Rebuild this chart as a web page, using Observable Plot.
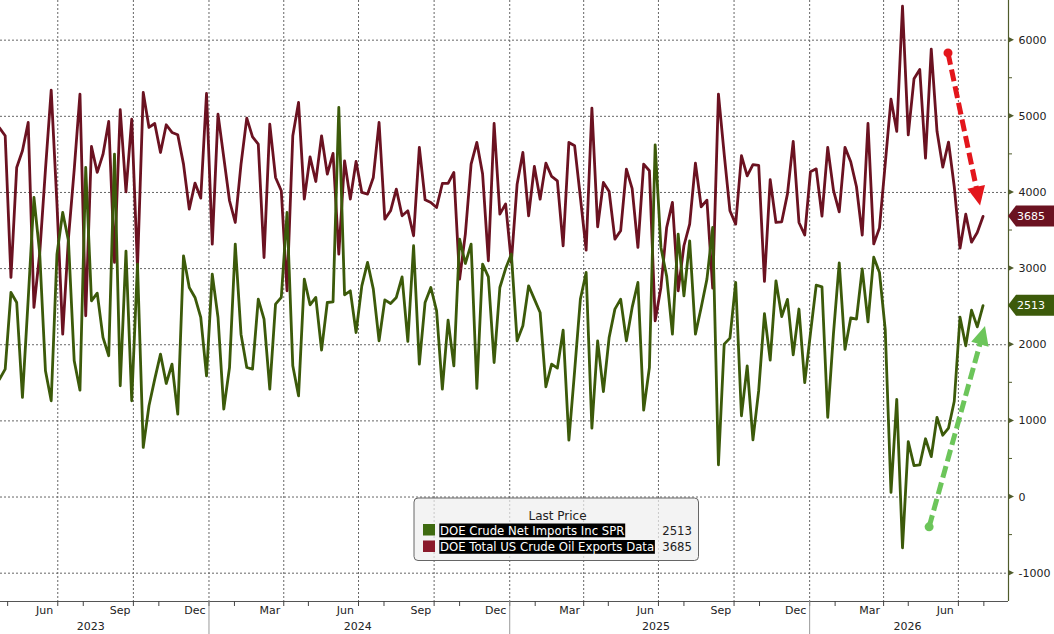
<!DOCTYPE html>
<html>
<head>
<meta charset="utf-8">
<script src="https://cdn.jsdelivr.net/npm/d3@7"></script>
<script src="https://cdn.jsdelivr.net/npm/@observablehq/plot@0.6"></script>
<style>
  html, body { margin: 0; padding: 0; background: #fff; }
  #chart { width: 1054px; height: 634px; overflow: hidden; }
  #chart svg { font-family: "DejaVu Sans", Verdana, sans-serif; }
</style>
</head>
<body>
<div id="chart"></div>
<script>
// ---------- data (weekly, thousand barrels per day) ----------
const firstWeek = "2023-04-21";
const seriesNames = ["DOE Crude Net Imports Inc SPR", "DOE Total US Crude Oil Exports Data"];
const seriesColors = ["#3c5a0a", "#6b1221"];
const swatchColors = ["#3e6a10", "#8a1a2b"];
const tagColors = ["#3c5a0a", "#6b1221"];

const exportsValues = [
  4850,4744,2884,4328,4547,4919,2490,3200,4300,5344,3850,2139,3400,4300,5292,2380,4604,4263,4500,4932,
  3081,5086,4009,4963,3015,5313,4854,4906,4525,4889,4788,4757,4372,3781,4123,3926,5300,3321,5029,4460,
  3891,3606,4372,4976,4730,4635,3146,4898,4197,4022,2709,4744,5182,3912,4468,4144,4744,4241,4512,3190,
  4416,3912,4407,4000,3978,4197,4919,3650,3759,4044,3694,3759,3431,4591,3904,3869,3803,4118,4118,4263,
  2862,3453,4372,4657,4241,3103,4906,3716,3850,3081,4109,4525,3694,4341,3912,4385,4210,4153,3300,4657,
  4613,3934,3243,5108,3549,4131,4013,3387,3497,4306,4050,3278,4372,4285,2314,2752,3540,3869,2709,3300,
  3584,4385,3812,3899,2744,5292,4503,3759,3584,4482,4219,4366,4357,2831,4169,3606,3615,3981,4671,3606,
  3441,4272,4310,3690,4592,4028,3746,4592,4404,4075,3441,4906,3324,3535,4380,5225,4803,6446,4756,5493,
  5615,4451,5883,4803,4333,4662,4075,3268,3714,3347,3474,3685
];
const importsValues = [
  1547,1680,2687,2555,1308,2600,3934,3200,1658,1264,3190,3737,3365,1789,1404,4328,2577,2678,2096,1855,
  4503,1461,3230,1264,3059,651,1198,1548,1877,1491,1745,1089,3168,2752,2621,2358,1592,2927,2358,1154,
  1701,3321,2139,1701,1680,2599,2336,1417,2533,2621,3737,1723,1329,2862,2525,2621,1929,2555,2564,5116,
  2656,2708,2161,2774,3081,2730,2052,2590,2542,2621,2892,2043,3300,1745,2555,2752,2446,1417,2323,1723,
  3387,3067,3321,1426,3059,2892,1767,2752,3000,3190,2052,2249,2774,2599,2424,1448,1745,1693,2192,747,
  1658,2599,2949,905,2052,1386,2096,2468,2599,2052,2490,2818,1141,1701,4626,3278,2900,2139,3453,2643,
  3365,2139,2490,2862,3540,423,2008,2087,2818,1067,1723,750,1400,2408,1798,2840,2371,2596,1868,2469,
  1502,2150,2784,2761,1047,2150,3075,1939,2352,2338,2995,2300,3150,2948,2197,60,1282,-667,728,413,
  422,765,530,1047,812,906,1258,2361,1986,2455,2235,2513
];
const lastValues = [2513, 3685];

// axis / tick labels
const yTicks = [-1000, 0, 1000, 2000, 3000, 4000, 5000, 6000];
const yMinorTicks = [-500, 500, 1500, 2500, 3500, 4500, 5500];
const labeledMonths = ["Jun", "Sep", "Dec", "Mar"];
const yearLabels = [
  { label: "2023", date: "2023-08-10" },
  { label: "2024", date: "2024-06-30" },
  { label: "2025", date: "2025-06-28" },
  { label: "2026", date: "2026-04-30" }
];
const xDomain = ["2023-04-22T07:00:00Z", "2026-08-31T00:00:00Z"];
const yDomain = [-1372, 6521];

// annotation arrows
const arrowStarts = [
  { date: "2026-06-19", value: 5826 },
  { date: "2026-05-27", value: -398 }
];
const arrowEnds = [
  { date: "2026-07-28", value: 3823 },
  { date: "2026-08-03", value: 2240 }
];
const arrowColors = ["#e3161c", "#6cc55a"];

// ---------- build ----------
const weekDates = exportsValues.map((_, i) => d3.utcDay.offset(new Date(firstWeek + "T00:00:00Z"), 7 * i));
const exportsRows = exportsValues.map((v, i) => ({ date: weekDates[i], value: v }));
const importsRows = importsValues.map((v, i) => ({ date: weekDates[i], value: v }));

const x0 = new Date(xDomain[0]), x1 = new Date(xDomain[1]);
const quarterStarts = d3.utcMonth.every(3).range(x0, x1);
const fmtMonth = d3.utcFormat("%b");
const allMonths = d3.utcMonth.range(x0, x1);
const monthTicks = allMonths.filter(d => !labeledMonths.includes(fmtMonth(d)));
const monthMids = allMonths.filter(d => labeledMonths.includes(fmtMonth(d))).map(d => d3.utcDay.offset(d, 14));
const yearStarts = d3.utcYear.range(x0, x1);
const yearLabelDates = yearLabels.map(d => new Date(d.date + "T00:00:00Z"));

const plot = Plot.plot({
  width: 1054,
  height: 634,
  marginLeft: 0,
  marginRight: 46,
  marginTop: 0,
  marginBottom: 33,
  style: { fontFamily: "DejaVu Sans, Verdana, sans-serif", fontSize: "11px", color: "#222", background: "#fff" },
  x: { type: "utc", domain: [x0, x1], axis: null },
  y: { domain: yDomain, axis: null },
  marks: [
    Plot.ruleY(yTicks, { stroke: "#666", strokeDasharray: "2,2", strokeWidth: 1 }),
    Plot.ruleX(quarterStarts, { stroke: "#666", strokeDasharray: "2,2", strokeWidth: 1 }),
    Plot.line(exportsRows, { x: "date", y: "value", stroke: seriesColors[1], strokeWidth: 2.8, clip: true }),
    Plot.line(importsRows, { x: "date", y: "value", stroke: seriesColors[0], strokeWidth: 2.8, clip: true }),
    Plot.ruleY([yDomain[0]], { stroke: "#555", strokeWidth: 1 }),
    Plot.ruleX([x1], { stroke: "#4f5b2b", strokeWidth: 1.2 }),
    Plot.axisY({ anchor: "right", ticks: yTicks, tickSize: 0, tickPadding: 10, tickFormat: d => String(d), label: null, fontSize: 11, fill: "#222" }),
    Plot.axisX({ ticks: monthTicks, tickSize: 5, tickFormat: () => "", label: null, stroke: "#444" }),
    Plot.axisX({ ticks: yearStarts, tickSize: 33, tickFormat: () => "", label: null, stroke: "#999" }),
    Plot.axisX({ ticks: monthMids, tickSize: 0, tickPadding: 5, tickFormat: d => fmtMonth(d), label: null, fontSize: 11, fill: "#222" }),
    Plot.axisX({ ticks: yearLabelDates, tickSize: 0, tickPadding: 21, tickFormat: d => String(d.getUTCFullYear()), label: null, fontSize: 11, fill: "#222" })
  ]
});

document.getElementById("chart").appendChild(plot);

// ---------- overlays using Plot's scales ----------
const sxs = plot.scale("x"), sys = plot.scale("y");
const fx = sxs.apply ? (v => sxs.apply(v)) : d3.scaleUtc(sxs.domain, sxs.range);
const fy = sys.apply ? (v => sys.apply(v)) : d3.scaleLinear(sys.domain, sys.range);
const svg = d3.select(plot);
const axisX = fx(x1);
const ff = "DejaVu Sans, Verdana, sans-serif";

// right-axis tick markers
const tg = svg.append("g");
yTicks.forEach(v => {
  const y = fy(v);
  tg.append("path").attr("d", `M${axisX},${y - 3}L${axisX + 6},${y}L${axisX},${y + 3}Z`).attr("fill", "#4f5b2b");
});
yMinorTicks.forEach(v => {
  const y = fy(v);
  tg.append("line").attr("x1", axisX).attr("x2", axisX + 4).attr("y1", y).attr("y2", y).attr("stroke", "#4f5b2b");
});

// last-value tags
lastValues.forEach((v, k) => {
  const y = fy(v);
  const g = svg.append("g");
  g.append("path")
    .attr("d", `M${axisX},${y}L${axisX + 8},${y - 10.5}L1054,${y - 10.5}L1054,${y + 10.5}L${axisX + 8},${y + 10.5}Z`)
    .attr("fill", tagColors[k]);
  g.append("text").attr("x", axisX + 9).attr("y", y + 4).attr("fill", "#fff").attr("text-anchor", "start")
    .attr("font-family", ff).attr("font-size", 11).text(String(v));
});

// arrows
arrowStarts.forEach((s, k) => {
  const e = arrowEnds[k];
  const p1 = [fx(new Date(s.date + "T00:00:00Z")), fy(s.value)];
  const p2 = [fx(new Date(e.date + "T00:00:00Z")), fy(e.value)];
  const dx = p2[0] - p1[0], dy = p2[1] - p1[1];
  const len = Math.hypot(dx, dy);
  const ux = dx / len, uy = dy / len;
  const headLen = 19, headHalf = 9;
  const bx = p2[0] - ux * headLen, by = p2[1] - uy * headLen;
  const g = svg.append("g");
  g.append("line").attr("x1", p1[0]).attr("y1", p1[1]).attr("x2", bx + ux * 2).attr("y2", by + uy * 2)
    .attr("stroke", arrowColors[k]).attr("stroke-width", 5).attr("stroke-dasharray", "12,5");
  g.append("circle").attr("cx", p1[0]).attr("cy", p1[1]).attr("r", 4.5).attr("fill", arrowColors[k]);
  g.append("path")
    .attr("d", `M${p2[0]},${p2[1]}L${bx - uy * headHalf},${by + ux * headHalf}L${bx + uy * headHalf},${by - ux * headHalf}Z`)
    .attr("fill", arrowColors[k]);
});

// legend
const lg = svg.append("g");
lg.append("rect").attr("x", 414).attr("y", 498).attr("width", 284.5).attr("height", 62.5).attr("rx", 4)
  .attr("fill", "rgba(238,238,238,0.72)").attr("stroke", "#666").attr("stroke-width", 1);
lg.append("text").attr("x", 557.5).attr("y", 520).attr("text-anchor", "middle").attr("fill", "#222")
  .attr("font-family", ff).attr("font-size", 12).text("Last Price");
const rowBase = [534.5, 551];
seriesNames.forEach((name, k) => {
  const b = rowBase[k];
  lg.append("rect").attr("x", 423).attr("y", b - 10.5).attr("width", 12).attr("height", 11.5).attr("fill", swatchColors[k]);
  const hl = lg.append("rect").attr("x", 439.3).attr("y", b - 11).attr("height", 13.8).attr("fill", "#000");
  const t = lg.append("text").attr("x", 440).attr("y", b).attr("fill", "#fff").attr("text-anchor", "start")
    .attr("font-family", ff).attr("font-size", 11.7).text(name);
  const w = t.node().getComputedTextLength();
  hl.attr("width", w + 1.5);
  lg.append("text").attr("x", 692).attr("y", b).attr("text-anchor", "end").attr("fill", "#222")
    .attr("font-family", ff).attr("font-size", 11.7).text(String(lastValues[k]));
});
</script>
</body>
</html>
